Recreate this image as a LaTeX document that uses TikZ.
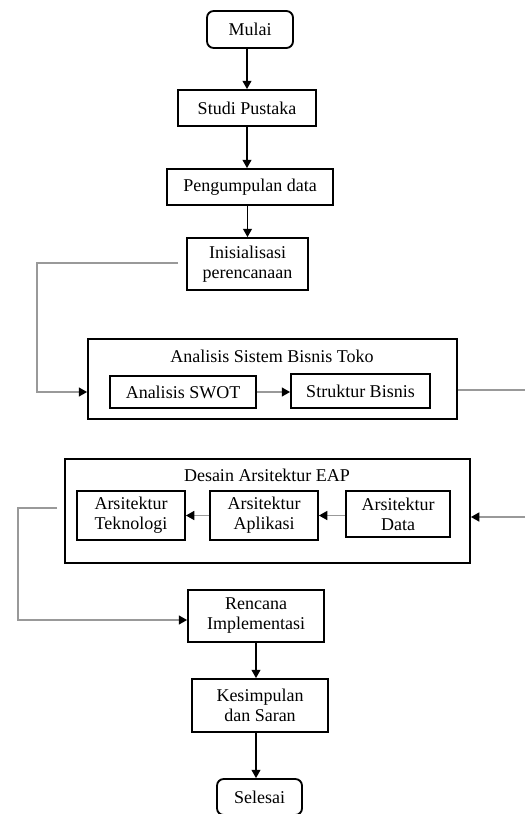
\documentclass[tikz,border=0pt]{standalone}
\usepackage{fontspec}
\setmainfont{Liberation Serif}
\usetikzlibrary{arrows.meta}

\begin{document}
\begin{tikzpicture}[>={Triangle[length=5pt,width=5.4pt]}, x=0.6pt, y=-0.6pt,
  kotak/.style={draw, line width=1.1pt, align=center, inner sep=0pt,
    font=\fontsize{10.8}{12}\selectfont},
  bulat/.style={kotak, rounded corners=4pt},
  judul/.style={inner sep=0pt, font=\fontsize{10.8}{12}\selectfont},
  panah/.style={->, line width=0.7pt},
  garis/.style={line width=0.8pt, draw=black!40, -{Triangle[length=5pt,width=5.4pt,color=black,fill=black]}}]
  \useasboundingbox (0,0) rectangle (525,814);

  % Alur atas
  \node[bulat, minimum width=51.6pt, minimum height=22.2pt] (mulai) at (250,29.5) {Mulai};
  \node[kotak, minimum width=82.8pt, minimum height=21.6pt] (studi) at (247,108) {Studi Pustaka};
  \node[kotak, minimum width=99.6pt, minimum height=21.6pt] (kumpul) at (250,187) {Pengumpulan data};
  \node[kotak, minimum width=72.6pt, minimum height=31.2pt] (inisial) at (247.5,264) {Inisialisasi\\perencanaan};

  \draw[panah] (studi.north |- mulai.south) -- (studi.north);
  \draw[panah] (studi) -- (studi |- kumpul.north);
  \draw[panah] (kumpul.south -| inisial) -- (inisial);

  % Analisis sistem bisnis
  \node[kotak, minimum width=221.4pt, minimum height=48pt] (analisis) at (272.5,379) {};
  \node[judul] (judul1) at (272,356) {Analisis Sistem Bisnis Toko};
  \node[kotak, minimum width=87.6pt, minimum height=19.2pt] (swot) at (183,392) {Analisis SWOT};
  \node[kotak, minimum width=83.4pt, minimum height=20.4pt] (struktur) at (360.5,391) {Struktur Bisnis};
  \draw[garis] (swot.east) -- (swot.east -| struktur.west);

  % Garis masuk dari inisialisasi
  \coordinate (awal1) at (178,263);
  \coordinate (belok1) at (37,263);
  \draw[garis] (awal1) -- (belok1) |- (analisis.west |- swot);

  % Garis keluar ke kanan
  \coordinate (kanan1) at (525,390);
  \draw[line width=0.8pt, draw=black!40] (analisis.east |- kanan1) -- (kanan1);

  % Desain arsitektur EAP
  \node[kotak, minimum width=243pt, minimum height=62.4pt] (desain) at (267.5,511) {};
  \node[judul] (judul2) at (267,475) {Desain Arsitektur EAP};
  \node[kotak, minimum width=64.8pt, minimum height=29.4pt] (tekno) at (131,515.5) {Arsitektur\\Teknologi};
  \node[kotak, minimum width=64.8pt, minimum height=29.4pt] (apli) at (264,515.5) {Arsitektur\\Aplikasi};
  \node[kotak, minimum width=62.4pt, minimum height=27.6pt] (data) at (398,514) {Arsitektur\\Data};
  \draw[garis] (data.west |- apli) -- (apli.east);
  \draw[garis] (apli.west) -- (tekno.east);

  % Garis masuk dari kanan
  \coordinate (kanan2) at (525,517);
  \draw[garis] (kanan2) -- (kanan2 -| desain.east);

  % Garis ke rencana implementasi
  \coordinate (awal2) at (57,508);
  \coordinate (belok2) at (18,508);

  % Alur bawah
  \node[kotak, minimum width=81.6pt, minimum height=31.2pt] (rencana) at (256,616) {Rencana\\Implementasi};
  \node[kotak, minimum width=81.6pt, minimum height=31.8pt] (simpul) at (260,705.5) {Kesimpulan\\dan Saran};
  \node[bulat, minimum width=51pt, minimum height=21.6pt] (selesai) at (259.5,797) {Selesai};

  \draw[garis] (awal2) -- (belok2) |- ([yshift=-2.4pt]rencana.west);
  \draw[panah] (rencana) -- (rencana |- simpul.north);
  \draw[panah] (simpul.south -| rencana) -- (rencana |- selesai.north);

\end{tikzpicture}
\end{document}
